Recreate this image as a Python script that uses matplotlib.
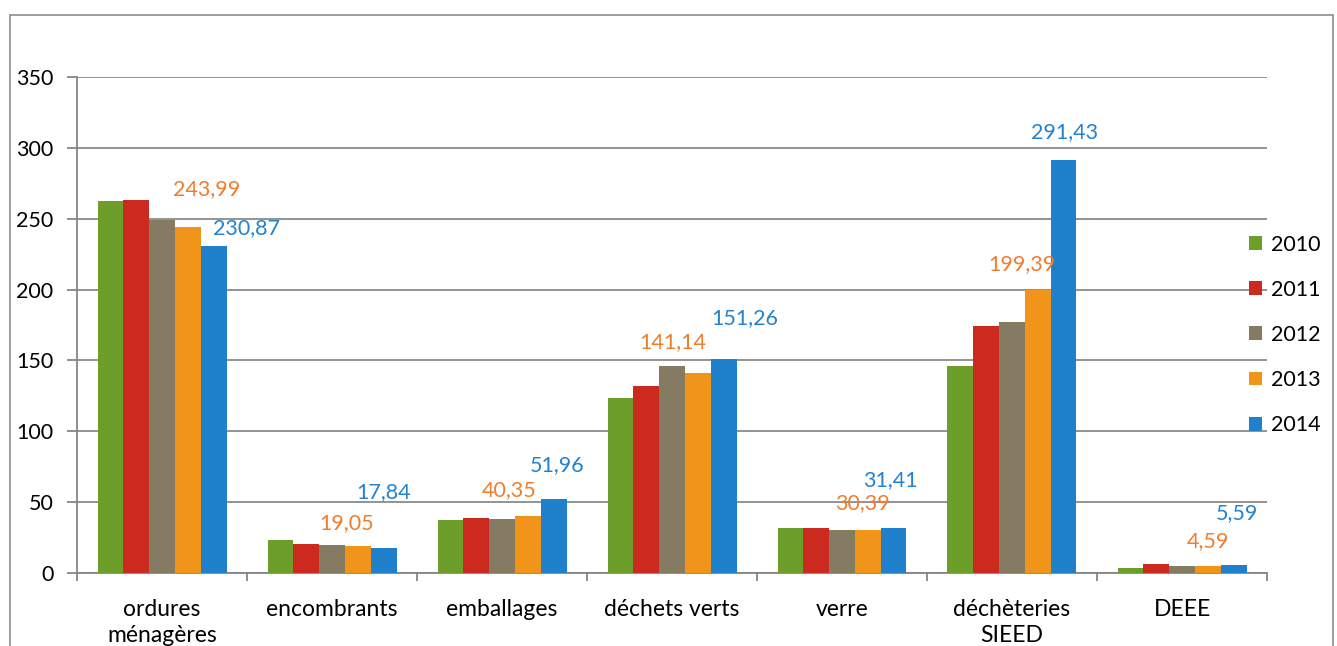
import matplotlib.pyplot as plt
import matplotlib.patches as mpatches
import numpy as np

# data (tonnes)
categories = ['ordures\nménagères', 'encombrants', 'emballages', 'déchets verts',
              'verre', 'déchèteries\nSIEED', 'DEEE']
years = ['2010', '2011', '2012', '2013', '2014']
v2010 = [262.6, 23.2, 37.4, 123.5, 32.0, 145.9, 3.8]
v2011 = [263.4, 20.3, 38.8, 132.2, 32.0, 174.5, 6.4]
v2012 = [249.2, 19.5, 38.1, 145.9, 30.6, 176.8, 4.8]
v2013 = [243.99, 19.05, 40.35, 141.14, 30.39, 199.39, 4.59]
v2014 = [230.87, 17.84, 51.96, 151.26, 31.41, 291.43, 5.59]
yticks = [0, 50, 100, 150, 200, 250, 300, 350]

series = [v2010, v2011, v2012, v2013, v2014]
colors = ['#6E9E2A', '#CC2A1E', '#857A62', '#F0951A', '#1F80CC']
label_colors = {3: '#EF7D2E', 4: '#2382D0'}
# label offsets (px) from bar top, as placed in the original
offsets = {
    3: [(19, 38), (-11, 23), (-19, 26), (-25, 31), (-5, 27), (-16, 26), (0, 25)],
    4: [(33, 18), (0, 56), (3, 34), (21, 41), (-3, 48), (1, 28), (3, 52)],
}

plt.rcParams['font.family'] = ['Lato', 'DejaVu Sans']
FS = 15.5

fig = plt.figure(figsize=(13.37, 6.46), dpi=100)
ax = fig.add_axes([77 / 1337, 73 / 646, 1190 / 1337, 496 / 646])

x = np.arange(len(categories))
width = 25.8 / 170
for j, (vals, col) in enumerate(zip(series, colors)):
    pos = x + (j - 2) * width
    ax.bar(pos, vals, width=width, color=col, label=years[j], zorder=3)
    if j in label_colors:
        for k, v in enumerate(vals):
            dx, dy = offsets[j][k]
            ax.annotate(f'{v:.2f}'.replace('.', ','), (pos[k], v),
                        xytext=(dx * 0.72, dy * 0.72), textcoords='offset points',
                        ha='center', va='center', fontsize=FS,
                        color=label_colors[j], zorder=4)

ax.set_xlim(-0.5, len(categories) - 0.5)
ax.set_ylim(0, 350)
ax.set_yticks(yticks)
ax.set_yticklabels([str(t) for t in yticks], fontsize=FS)
ax.set_xticks(x)
ax.set_xticklabels(categories, fontsize=16.5, linespacing=1.3)
ax.set_xticks(np.arange(len(categories) + 1) - 0.5, minor=True)
ax.tick_params(axis='x', which='major', length=0, pad=19)
ax.tick_params(axis='x', which='minor', length=6, width=1.3, color='#868686', direction='out')
ax.tick_params(axis='y', length=7, width=1.3, color='#868686', pad=10)

ax.grid(axis='y', color='#8A8A8A', linewidth=1.3, zorder=0)
ax.set_axisbelow(True)
for s in ['top', 'right']:
    ax.spines[s].set_visible(False)
for s in ['left', 'bottom']:
    ax.spines[s].set_color('#868686')
    ax.spines[s].set_linewidth(1.3)

ax.legend(loc='center left', bbox_to_anchor=(0.985, 0.48), frameon=False,
          fontsize=FS, handlelength=0.6, handleheight=0.6, handletextpad=0.4,
          labelspacing=1.17, borderpad=0, borderaxespad=0)

# outer frame of the chart
fig.add_artist(mpatches.Rectangle((10 / 1337, -0.1), 1323 / 1337, 1.1 - 15 / 646,
                                  transform=fig.transFigure, fill=False,
                                  edgecolor='#8C8C8C', linewidth=1.2))

fig.savefig('out.png', dpi=100)
